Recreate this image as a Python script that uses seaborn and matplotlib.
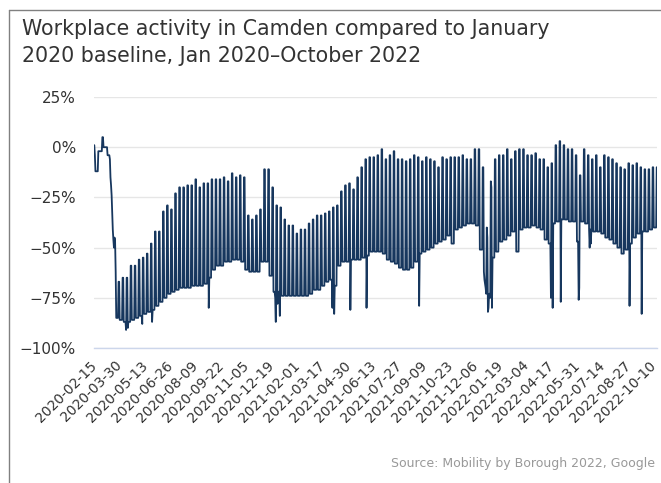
import numpy as np
import pandas as pd
import matplotlib
matplotlib.use("Agg")
import matplotlib.pyplot as plt
from matplotlib.lines import Line2D
import seaborn as sns

# weekly levels, % change vs Jan 2020 baseline
# week 0 = Mon 2020-02-17; weekday = Mon-Fri, weekend = the Sat/Sun after
weekday_level = [
    -12, -2, 0, -4, -40, -85, -86, -87, -87, -86,
    -85, -84, -83, -82, -81, -79, -77, -75, -73, -72,
    -71, -70, -70, -70, -69, -69, -69, -68, -65, -61,
    -59, -59, -57, -57, -56, -56, -57, -61, -62, -62,
    -62, -57, -57, -64, -72, -72, -74, -74, -74, -74,
    -74, -74, -74, -73, -71, -71, -69, -67, -66, -69,
    -59, -57, -57, -56, -56, -56, -55, -54, -52, -52,
    -52, -53, -56, -57, -58, -60, -61, -61, -60, -57,
    -53, -52, -51, -50, -48, -47, -46, -44, -48, -41,
    -40, -39, -38, -38, -39, -51, -68, -73, -55, -52,
    -47, -46, -44, -42, -52, -41, -40, -40, -39, -40,
    -41, -46, -48, -38, -37, -36, -36, -37, -37, -47,
    -37, -38, -41, -42, -42, -43, -45, -46, -48, -50,
    -53, -51, -48, -45, -43, -42, -42, -41, -40,
]
weekend_level = [
    -2, 5, 0, -15, -46, -67, -65, -65, -59, -59,
    -56, -55, -53, -48, -42, -42, -32, -29, -31, -23,
    -20, -20, -19, -19, -16, -20, -18, -18, -16, -16,
    -16, -15, -17, -13, -15, -14, -15, -34, -36, -34,
    -31, -11, -11, -20, -29, -30, -36, -39, -39, -43,
    -41, -41, -38, -36, -34, -34, -33, -32, -30, -29,
    -22, -19, -18, -21, -15, -10, -6, -5, -5, -4,
    -1, -6, -4, -2, -6, -6, -7, -6, -4, -5,
    -7, -5, -6, -7, -10, -5, -6, -5, -5, -5,
    -4, -6, -6, -1, -1, -10, -40, -18, -6, -4,
    -4, -1, -6, -2, -1, -1, -4, -4, -3, -6,
    -6, -10, -8, 1, 3, 1, -1, -1, -4, -14,
    -1, -4, -6, -4, -10, -4, -5, -6, -8, -10,
    -11, -8, -9, -8, -10, -11, -11, -10, -10,
]
# single days off the weekly pattern: lockdown start, bank holidays, strikes
special_days = {
    "2020-02-15": 1, "2020-02-16": -4,
    "2020-03-13": -6, "2020-03-14": -15, "2020-03-15": -19,
    "2020-03-16": -24, "2020-03-17": -33, "2020-03-18": -41,
    "2020-03-19": -46, "2020-03-20": -50, "2020-03-21": -45,
    "2020-03-22": -47, "2020-03-23": -62,
    "2020-04-10": -91, "2020-04-13": -90, "2020-05-08": -88,
    "2020-05-25": -87, "2020-08-31": -80,
    "2020-12-24": -75, "2020-12-25": -87, "2020-12-28": -78,
    "2021-01-01": -84,
    "2021-04-02": -80, "2021-04-05": -83, "2021-05-03": -81,
    "2021-05-31": -80, "2021-08-30": -79,
    "2021-12-20": -62, "2021-12-21": -66, "2021-12-22": -68,
    "2021-12-23": -70, "2021-12-24": -73, "2021-12-25": -40,
    "2021-12-26": -45, "2021-12-27": -82, "2021-12-28": -80,
    "2021-12-31": -75, "2022-01-01": -17, "2022-01-02": -20,
    "2022-01-03": -80,
    "2022-04-15": -75, "2022-04-18": -80, "2022-05-02": -77,
    "2022-06-02": -76, "2022-06-03": -70, "2022-06-21": -50,
    "2022-06-23": -48, "2022-08-29": -79, "2022-09-19": -83,
}

start = pd.Timestamp("2020-02-15")
end = pd.Timestamp("2022-10-15")
week0 = pd.Timestamp("2020-02-17")

dates = pd.date_range(start, end, freq="D")
vals = []
for d in dates:
    key = d.strftime("%Y-%m-%d")
    if key in special_days:
        vals.append(special_days[key])
        continue
    w = (d - week0).days // 7
    vals.append(weekend_level[w] if d.dayofweek >= 5 else weekday_level[w])
df = pd.DataFrame({"date": dates, "value": vals})

sns.set_theme(style="white")
plt.rcParams["font.family"] = ["DejaVu Sans"]

W, H = 661, 483
fig = plt.figure(figsize=(W / 100, H / 100), dpi=100)
ax = fig.add_axes([94 / W, 1 - 348 / H, (657 - 94) / W, (348 - 97) / H])

sns.lineplot(data=df, x="date", y="value", ax=ax, color="#17375e", linewidth=1.3)

ax.set_ylim(-100, 25)
ax.set_xlim(start - pd.Timedelta(days=0.5), end + pd.Timedelta(days=0.5))
yt = [25, 0, -25, -50, -75, -100]
ax.set_yticks(yt)
ax.set_yticklabels([f"{v}%".replace("-", "\u2212") for v in yt], color="#333333", fontsize=11)
ax.yaxis.grid(True, color="#e6e6e6", linewidth=1)
ax.xaxis.grid(False)

xt = pd.date_range(start, periods=23, freq="44D")
ax.set_xticks(xt)
ax.set_xticklabels([t.strftime("%Y-%m-%d") for t in xt], rotation=45, ha="right",
                   va="center", rotation_mode="anchor", fontsize=10, color="#333333")
ax.tick_params(axis="both", length=0)
ax.tick_params(axis="y", pad=13)
ax.tick_params(axis="x", pad=11)
ax.set_xlabel("")
ax.set_ylabel("")

for s in ["left", "top", "right"]:
    ax.spines[s].set_visible(False)
ax.spines["bottom"].set_color("#ccd6eb")
ax.spines["bottom"].set_linewidth(1)

fig.text(22 / W, 1 - 19 / H,
         "Workplace activity in Camden compared to January\n2020 baseline, Jan 2020\u2013October 2022",
         ha="left", va="top", fontsize=14.8, color="#333333", linespacing=1.42)
fig.text(655 / W, 1 - 463 / H, "Source: Mobility by Borough 2022, Google",
         ha="right", va="center", fontsize=9, color="#999999")

# outer frame, only left and top edges fall inside the picture
fx, fy = 8.5 / W, 1 - 9.5 / H
fig.add_artist(Line2D([fx, fx], [0, fy], transform=fig.transFigure, color="#808080", lw=1))
fig.add_artist(Line2D([fx, 1], [fy, fy], transform=fig.transFigure, color="#808080", lw=1))

fig.savefig("out.png", dpi=100)
